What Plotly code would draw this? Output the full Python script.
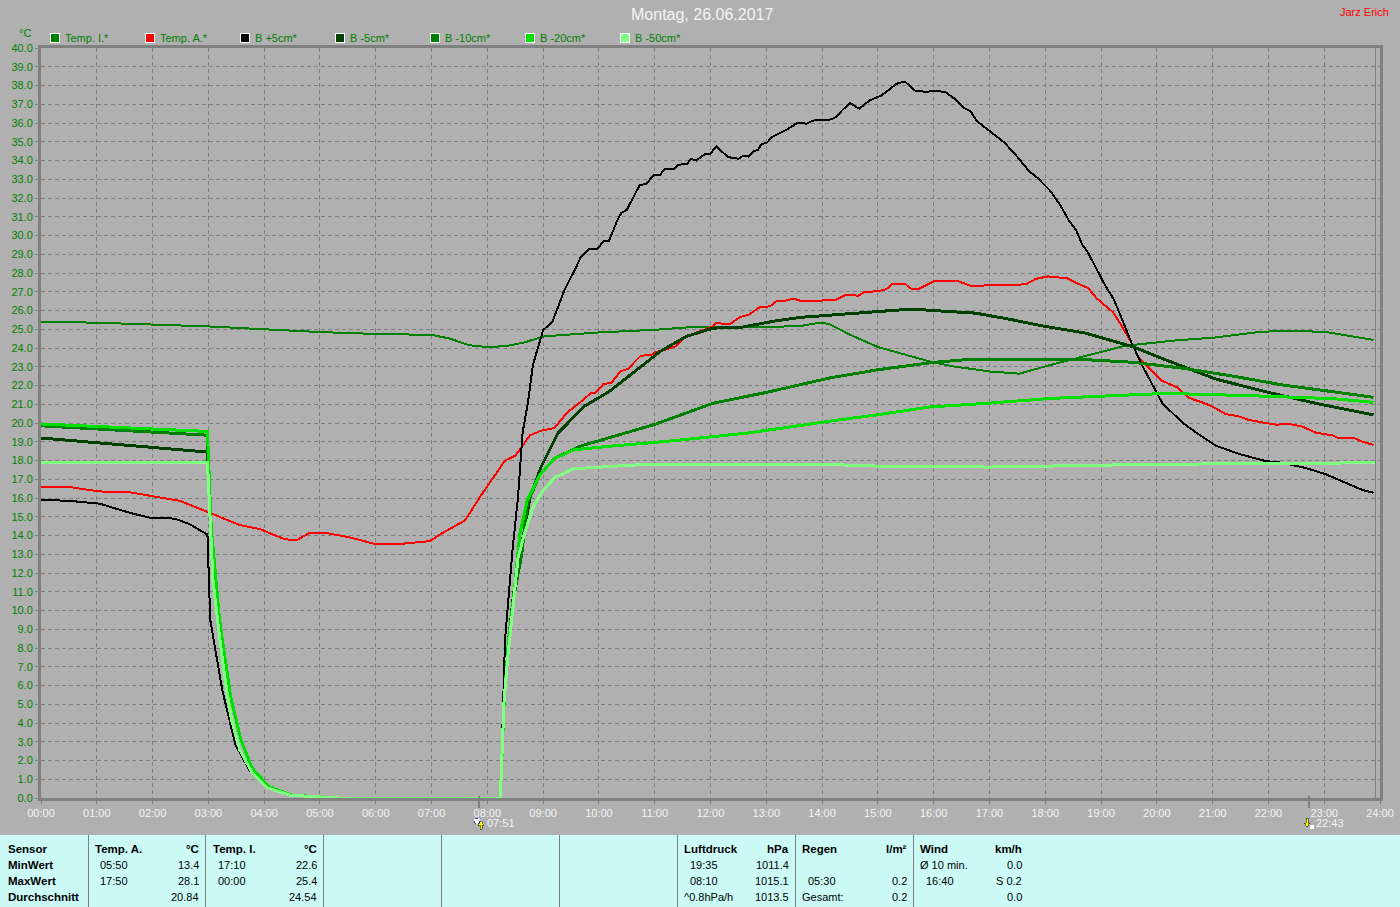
import plotly.graph_objects as go

W, H = 1400, 907
BG = "#b0b0b0"
FONT = "Liberation Sans, Arial, sans-serif"

# ---------- data ----------
temp_i_t = ["00:00","01:00","02:00","03:00","04:00","05:00","06:00","07:00","07:20","07:40","08:00","08:20","08:40","09:01","10:00","11:00","11:35","13:07","13:39","13:58","14:08","14:17","14:30","15:00","15:34","15:56","16:21","17:00","17:32","18:00","18:39","19:26","19:34","20:17","21:03","21:53","22:33","23:05","23:53"]
temp_i_v = [25.4,25.35,25.25,25.15,25.0,24.85,24.75,24.7,24.5,24.15,24.05,24.1,24.3,24.62,24.83,24.97,25.1,25.12,25.19,25.36,25.27,25.03,24.71,24.05,23.58,23.28,23.02,22.75,22.63,23.02,23.52,24.12,24.16,24.39,24.56,24.87,24.92,24.83,24.43]

temp_a_t = ["00:00","00:30","00:42","01:03","01:36","02:08","02:29","03:02","03:34","03:55","04:22","04:35","04:49","05:05","05:32","05:59","06:26","06:58","07:14","07:36","07:52","08:19","08:30","08:46","08:58","09:12","09:19","09:26","09:42","09:51","09:56","10:05","10:13","10:23","10:31","10:45","10:56","11:01","11:11","11:22","11:34","11:52","12:01","12:07","12:14","12:21","12:32","12:41","12:53","13:04","13:10","13:23","13:29","13:39","14:08","14:15","14:26","14:39","14:46","15:00","15:09","15:16","15:29","15:36","15:44","15:52","16:01","16:24","16:42","17:00","17:14","17:39","17:50","18:03","18:24","18:35","18:46","18:55","19:13","19:22","19:33","19:41","19:52","20:06","20:22","20:35","20:51","21:00","21:14","21:29","21:39","22:08","22:22","22:37","22:51","23:09","23:16","23:32","23:41","23:53"]
temp_a_v = [16.6,16.6,16.5,16.35,16.3,16.05,15.85,15.2,14.55,14.35,13.8,13.75,14.15,14.15,13.9,13.55,13.55,13.7,14.2,14.8,16.05,18.0,18.25,19.35,19.59,19.73,20.14,20.56,21.19,21.58,21.58,22.09,22.13,22.75,22.88,23.59,23.62,23.78,23.91,24.08,24.62,24.97,25.12,25.36,25.28,25.28,25.65,25.77,26.18,26.22,26.48,26.54,26.64,26.48,26.54,26.57,26.84,26.79,27.0,27.02,27.14,27.43,27.43,27.16,27.16,27.37,27.57,27.6,27.28,27.36,27.36,27.39,27.69,27.82,27.71,27.43,27.2,26.66,25.9,25.2,24.25,23.45,22.9,22.24,21.9,21.33,21.06,20.87,20.48,20.34,20.16,19.91,19.95,19.8,19.48,19.34,19.18,19.2,19.0,18.83]

b_p5_t = ["00:00","00:30","01:03","01:36","01:57","02:24","02:40","02:59","03:02","03:15","03:29","03:45","04:01","04:22","04:49","05:00","08:14","08:17","08:19","08:27","08:33","08:38","08:44","08:49","09:00","09:10","09:23","09:35","09:40","09:50","09:58","10:05","10:11","10:20","10:24","10:30","10:44","10:51","10:59","11:06","11:11","11:21","11:25","11:35","11:39","11:45","11:54","12:00","12:06","12:19","12:30","12:35","12:41","12:46","12:51","12:55","13:00","13:07","13:22","13:34","13:43","13:50","14:08","14:15","14:22","14:30","14:40","14:51","15:04","15:20","15:29","15:40","15:52","16:02","16:13","16:24","16:33","16:40","16:46","16:54","17:04","17:16","17:29","17:43","17:52","18:06","18:17","18:26","18:33","18:40","18:46","18:55","19:05","19:14","19:23","19:33","19:45","20:00","20:06","20:19","20:28","20:46","21:03","21:29","21:57","22:15","22:40","23:01","23:26","23:41","23:53"]
b_p5_v = [15.9,15.85,15.7,15.2,14.95,14.9,14.6,14.05,9.5,5.75,2.85,1.4,0.7,0.2,0.05,0.0,0.0,6.0,8.4,13.2,16.05,19.5,21.2,23.1,24.95,25.4,27.1,28.26,28.8,29.3,29.27,29.7,29.73,30.84,31.2,31.37,32.7,32.74,33.24,33.25,33.56,33.54,33.77,33.82,34.09,34.0,34.34,34.37,34.75,34.18,34.09,34.25,34.21,34.48,34.57,34.89,34.92,35.28,35.64,36.03,35.96,36.13,36.17,36.31,36.7,37.06,36.76,37.2,37.47,38.09,38.21,37.73,37.66,37.73,37.63,37.24,36.79,36.61,36.13,35.81,35.42,34.96,34.25,33.41,33.06,32.35,31.55,30.75,30.3,29.5,29.09,28.26,27.28,26.57,25.5,24.25,23.0,21.6,21.05,20.43,20.0,19.36,18.8,18.34,17.97,17.88,17.6,17.28,16.75,16.43,16.28]

# shared shape of the night-time drop and the morning rise
drop_t = ["03:02","03:05","03:12","03:18","03:25","03:34","03:47","04:03","04:28","05:03","05:20","08:14"]
drop_v = [14.8,11.6,8.6,6.3,4.15,2.55,1.35,0.55,0.15,0.05,0.0,0.0]

b_m5_t = ["00:00","02:59"] + drop_t + ["08:16","08:18","08:22","08:28","08:37","08:46","08:58","09:16","09:44","10:11","10:41","11:06","11:34","12:03","12:35","13:07","13:36","14:08","15:00","15:37","15:59","16:45","17:21","18:00","18:43","19:23","19:34","20:10","21:03","21:57","22:51","23:53"]
b_m5_v = [19.2,18.45] + drop_v + [2.2,5.0,8.0,10.8,13.5,16.05,17.68,19.46,20.88,21.68,22.84,23.82,24.62,25.06,25.12,25.42,25.63,25.75,25.92,26.08,26.0,25.86,25.54,25.15,24.8,24.23,24.07,23.36,22.35,21.67,21.05,20.43]

b_m10_t = ["00:00","02:59"] + drop_t + ["08:16","08:18","08:22","08:28","08:37","08:43","08:56","09:12","09:39","10:09","11:01","12:03","13:00","14:08","15:00","15:59","16:31","17:42","18:39","19:34","20:28","21:22","22:15","23:09","23:53"]
b_m10_v = [19.85,19.35] + drop_v + [2.2,5.0,8.0,10.6,13.0,15.7,17.2,18.1,18.75,19.2,19.94,21.06,21.63,22.4,22.84,23.23,23.36,23.41,23.39,23.24,22.92,22.5,22.03,21.67,21.37]

b_m20_t = ["00:00","02:59","03:03","03:08","03:12","03:24","03:35","03:47","04:05","04:30","05:05","05:20","08:14","08:16","08:18","08:22","08:28","08:35","08:43","08:56","09:12","09:33","10:09","11:13","12:39","14:19","15:00","15:55","17:00","18:05","19:29","20:10","21:39","23:09","23:53"]
b_m20_v = [19.95,19.55,14.5,11.8,9.5,5.4,3.1,1.6,0.6,0.15,0.05,0.0,0.0,2.2,5.0,8.0,10.6,14.1,15.9,17.2,18.1,18.57,18.75,19.02,19.46,20.17,20.44,20.85,21.06,21.31,21.5,21.58,21.46,21.3,21.1]

b_m50_t = ["00:00","02:59"] + drop_t + ["08:16","08:18","08:22","08:28","08:33","08:40","08:49","09:00","09:13","09:32","09:58","10:33","11:00","14:00","15:00","17:00","18:00","20:00","23:00","23:55"]
b_m50_v = [17.9,17.9] + drop_v + [2.2,5.2,7.5,10.2,12.8,14.1,15.5,16.4,17.1,17.55,17.65,17.75,17.8,17.8,17.7,17.65,17.7,17.8,17.85,17.9]

series_names = ["Temp. I.*","Temp. A.*","B +5cm*","B -5cm*","B -10cm*","B -20cm*","B -50cm*"]
series_colors = ["#008000","#ff0000","#000000","#004000","#008000","#00e000","#80ff80"]
series_widths = [2,2,2,3,3,3,3]
series_t = [temp_i_t,temp_a_t,b_p5_t,b_m5_t,b_m10_t,b_m20_t,b_m50_t]
series_v = [temp_i_v,temp_a_v,b_p5_v,b_m5_v,b_m10_v,b_m20_v,b_m50_v]

x_ticks = list(range(0,25))
x_labels = [f"{h:02d}:00" for h in x_ticks]
title_text = "Montag, 26.06.2017"
station = "Jarz Erich"
sunrise, sunset = "07:51", "22:43"

table_rows = ["Sensor","MinWert","MaxWert","Durchschnitt"]
temp_a_col = [("Temp. A.","°C"),("05:50","13.4"),("17:50","28.1"),("","20.84")]
temp_i_col = [("Temp. I.","°C"),("17:10","22.6"),("00:00","25.4"),("","24.54")]
druck_col = [("Luftdruck","hPa"),("19:35","1011.4"),("08:10","1015.1"),("^0.8hPa/h","1013.5")]
regen_col = [("Regen","l/m²"),("",""),("05:30","0.2"),("Gesamt:","0.2")]
wind_col = [("Wind","km/h"),("Ø 10 min.","0.0"),("16:40","S 0.2"),("","0.0")]

# ---------- helpers ----------
def hours(t):
    h, m = t.split(":")
    return int(h) + int(m) / 60

def px(x): return x / W
def py(y): return 1 - y / H

fig = go.Figure()
for name, col, wid, t, v in zip(series_names, series_colors, series_widths, series_t, series_v):
    fig.add_trace(go.Scatter(x=[hours(s) for s in t], y=v, name=name, mode="lines",
                             line=dict(color=col, width=wid), cliponaxis=False, showlegend=False))

ann, shp = [], []
def text(x, y, s, color="#000000", size=11, anchor="left", bold=False, font=FONT):
    ann.append(dict(x=px(x), y=py(y), xref="paper", yref="paper", text=f"<b>{s}</b>" if bold else s,
                    showarrow=False, xanchor=anchor, yanchor="middle",
                    font=dict(color=color, size=size, family=font), borderpad=0, borderwidth=0))
def rect(x0, y0, x1, y1, fill, line=None, w=0):
    shp.append(dict(type="rect", xref="paper", yref="paper", x0=px(x0), x1=px(x1), y0=py(y0), y1=py(y1),
                    fillcolor=fill, line=dict(color=line or fill, width=w), layer="above"))
def vline(x, y0, y1, color="#808080", w=1):
    shp.append(dict(type="line", xref="paper", yref="paper", x0=px(x), x1=px(x), y0=py(y0), y1=py(y1),
                    line=dict(color=color, width=w), layer="above"))

# header
text(702, 15, title_text, color="#f4f4f4", size=16, anchor="center")
text(1389, 12, station, color="#ff0000", size=11, anchor="right")
text(25, 33, "°C", color="#008000", size=11, anchor="center")

# legend
for i, (name, col) in enumerate(zip(series_names, series_colors)):
    x0 = 50.5 + 95 * i
    rect(x0, 33.5, x0 + 9, 42.5, col, "#ffffff", 1)
    text(x0 + 14.5, 38, name, color="#008000", size=11)

# frame extras
vline(1375.5, 48, 798, "#808080", 1)
vline(478.5, 796, 808, "#808080", 2)
vline(1309, 796, 808, "#808080", 2)

# sunrise / sunset
shp.append(dict(type="circle", xref="paper", yref="paper", x0=px(474), x1=px(480), y0=py(818), y1=py(824),
                fillcolor="#ffffff", line=dict(color="#4040a0", width=1, dash="dot"), layer="above"))
shp.append(dict(type="path", xref="paper", yref="paper", fillcolor="#ffff00", line=dict(color="#000000", width=0.5), layer="above",
                path=f"M {px(481)} {py(821)} L {px(484)} {py(825)} L {px(482)} {py(825)} L {px(482)} {py(829)} L {px(480)} {py(829)} L {px(480)} {py(825)} L {px(478)} {py(825)} Z"))
text(487, 823, sunrise, color="#f4f4f4", size=11)
shp.append(dict(type="path", xref="paper", yref="paper", fillcolor="#ffff00", line=dict(color="#000000", width=0.5), layer="above",
                path=f"M {px(1307)} {py(827)} L {px(1304)} {py(823)} L {px(1306)} {py(823)} L {px(1306)} {py(818)} L {px(1308)} {py(818)} L {px(1308)} {py(823)} L {px(1310)} {py(823)} Z"))
rect(1310, 825, 1314, 829, "#ffffff")
text(1316, 823, sunset, color="#f4f4f4", size=11)

# table
rect(0, 834.5, W, H, "#ccfbf7")
for x in [88.5, 205.5, 323.5, 441.5, 559.5, 677.5, 795.5, 913.5]:
    vline(x, 835, H, "#808080", 1.5)
row_y = [849, 865, 881, 897]
for y, s in zip(row_y, table_rows):
    text(8, y, s, size=11.5, bold=True)
cols = [(temp_a_col, 95, 100, 199), (temp_i_col, 213, 218, 317), (druck_col, 684, 690, 789),
        (regen_col, 802, 808, 907), (wind_col, 920, 926, 1022)]
for col, head_x, time_x, right_x in cols:
    for j, (y, (left, right)) in enumerate(zip(row_y, col)):
        lx = head_x if j == 0 or left in ("^0.8hPa/h", "Gesamt:", "Ø 10 min.") else time_x
        sz = 11.5 if j == 0 else 11
        if left: text(lx, y, left, size=sz, bold=j == 0)
        if right: text(right_x, y, right, size=sz, bold=j == 0, anchor="right")

fig.update_layout(
    width=W, height=H, autosize=False, paper_bgcolor=BG, plot_bgcolor=BG,
    margin=dict(l=0, r=0, t=0, b=0, autoexpand=False), showlegend=False,
    annotations=ann, shapes=shp,
    xaxis=dict(domain=[px(41), px(1380)], range=[0, 24], tickmode="array", tickvals=x_ticks, ticktext=x_labels,
               automargin=False, ticklabeloverflow="allow",
               tickfont=dict(color="#f4f4f4", size=11, family=FONT), ticks="outside", ticklen=3, tickcolor="#808080",
               showgrid=True, gridcolor="#808080", griddash="4px,3px", gridwidth=1, zeroline=False,
               showline=True, mirror=True, linecolor="#808080", linewidth=3),
    yaxis=dict(domain=[py(798), py(48)], range=[0, 40], tick0=0, dtick=1, tickformat=".1f",
               automargin=False, ticklabeloverflow="allow",
               tickfont=dict(color="#008000", size=11, family=FONT), ticks="outside", ticklen=3, tickcolor="#808080",
               showgrid=True, gridcolor="#808080", griddash="4px,3px", gridwidth=1, zeroline=False,
               showline=True, mirror=True, linecolor="#808080", linewidth=3),
)

css = ".trace path, .gridlayer path, .shapelayer path {shape-rendering:crispEdges !important;}"
fig.write_html("out.html", config={"displayModeBar": False},
               post_script="document.body.style.margin='0';document.body.style.overflow='hidden';"
                           f"var s=document.createElement('style');s.textContent='{css}';document.head.appendChild(s);")
